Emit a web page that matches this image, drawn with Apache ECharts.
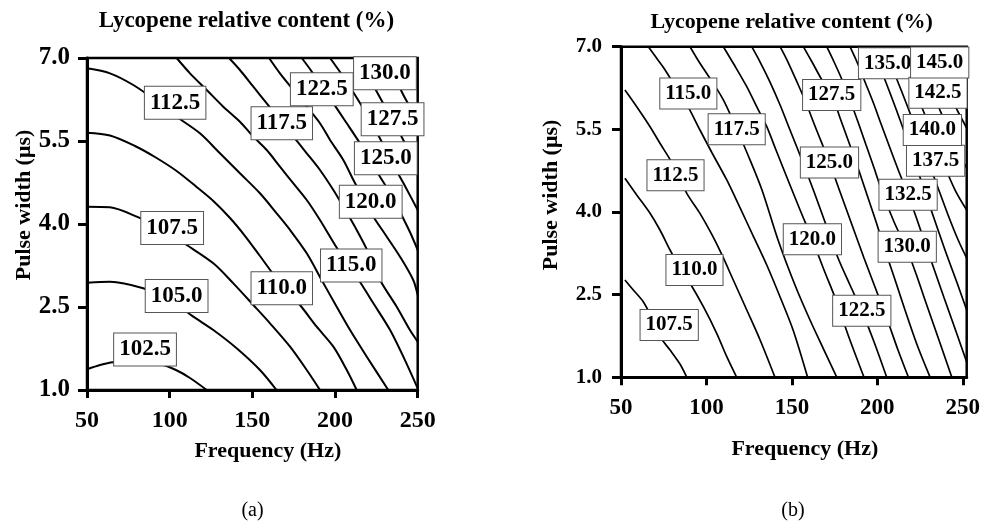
<!DOCTYPE html>
<html><head><meta charset="utf-8">
<script src="https://cdn.jsdelivr.net/npm/echarts@6.0.0/dist/echarts.min.js"></script>
<style>html,body{margin:0;padding:0;background:#fff}#c{width:984px;height:524px}</style>
</head><body><div id="c"></div>
<script>
// ---------- axis ticks ----------
const freqTicks = [50, 100, 150, 200, 250];
const widthTicks = [1.0, 2.5, 4.0, 5.5, 7.0];

// ---------- chart (a): contour lines [frequency Hz, pulse width us] ----------
const aLevels = [102.5, 105.0, 107.5, 110.0, 112.5, 115.0, 117.5, 120.0, 122.5, 125.0, 127.5, 130.0];
const a102_5 = [[50,1.374],[57.9,1.452],[65.7,1.501],[82.1,1.524],[94.2,1.470],[103.8,1.361],[112.3,1.217],[122.4,1.0]];
const a105_0 = [[50,2.939],[63.9,2.957],[84.0,2.838],[100.2,2.626],[114.3,2.325],[126.4,2.084],[140.5,1.754],[154.6,1.361],[164.6,1.0]];
const a107_5 = [[50,4.313],[63.9,4.302],[80.1,4.132],[95.4,3.910],[110.3,3.620],[126.4,3.290],[138.5,2.928],[150.6,2.536],[160.7,2.205],[172.8,1.783],[182.9,1.361],[190.9,1.0]];
const a110_0 = [[50,5.650],[63.9,5.599],[79.0,5.410],[91.1,5.211],[104.2,4.958],[116.3,4.669],[126.4,4.416],[136.5,4.108],[145.6,3.783],[154.6,3.422],[166.7,2.934],[178.8,2.536],[188.9,2.144],[199.0,1.783],[207.1,1.361],[213.1,1.0]];
const a112_5 = [[50,6.814],[63.9,6.723],[78.0,6.512],[91.1,6.241],[104.2,5.939],[118.3,5.639],[130.4,5.278],[142.5,4.916],[154.6,4.555],[164.7,4.193],[172.8,3.892],[182.9,3.470],[191.9,2.988],[201.0,2.505],[209.1,2.084],[219.2,1.602],[232.2,1.0]];
const a115_0 = [[104.2,7.0],[112.3,6.723],[122.4,6.422],[132.4,6.120],[142.5,5.849],[150.6,5.578],[158.7,5.337],[166.7,5.036],[174.8,4.735],[182.9,4.434],[190.9,4.072],[200.0,3.620],[209.1,3.205],[215.1,2.952],[223.2,2.567],[233.3,2.084],[241.3,1.602],[250,1.03]];
const a117_5 = [[135.9,7.0],[142.5,6.783],[150.6,6.481],[158.7,6.181],[166.7,5.879],[174.8,5.578],[182.9,5.278],[190.9,4.976],[199.0,4.614],[205.0,4.313],[213.1,3.892],[220.0,3.494],[227.2,2.988],[237.3,2.505],[245.3,2.084],[250,1.873]];
const a120_0 = [[160.1,7.0],[166.7,6.723],[174.8,6.422],[182.9,6.120],[190.9,5.820],[197.0,5.518],[205.0,5.157],[211.1,4.795],[216.9,4.470],[223.2,4.132],[231.3,3.770],[239.3,3.409],[247.3,2.988],[250,2.717]];
const a122_5 = [[179.9,7.0],[186.1,6.747],[192.7,6.440],[199.0,6.181],[207.1,5.820],[215.1,5.458],[221.2,5.157],[227.2,4.855],[233.3,4.560],[239.3,4.217],[245.3,3.855],[250,3.530]];
const a125_0 = [[197.0,7.0],[205.0,6.662],[212.1,6.331],[218.7,6.006],[224.8,5.681],[230.8,5.337],[236.3,5.012],[242.3,4.687],[250,4.253]];
const a127_5 = [[213.6,7.0],[220.0,6.675],[226.0,6.349],[232.0,6.024],[238.1,5.699],[244.1,5.355],[250,5.007]];
const a130_0 = [[230.2,7.0],[236.9,6.602],[242.3,6.277],[250,5.879]];
// label anchor points for chart (a), same order as aLevels
const aLabelFreq  = [85.1, 104.2, 101.5, 167.8, 103.3, 209.8, 167.8, 221.6, 192.0, 230.7, 234.8, 230.2];
const aLabelWidth = [1.732, 2.699, 3.928, 2.838, 6.192, 3.250, 5.820, 4.403, 6.436, 5.187, 5.894, 6.723];

// ---------- chart (b): contour lines ----------
const bLevels = [107.5, 110.0, 112.5, 115.0, 117.5, 120.0, 122.5, 125.0, 127.5, 130.0, 132.5, 135.0, 137.5, 140.0, 142.5, 145.0];
const b107_5 = [[52.3,2.766],[57.2,2.584],[63.1,2.367],[68.1,2.076],[72.8,1.737],[78.7,1.495],[84.5,1.241],[88.5,1.0]];
const b110_0 = [[52.3,4.612],[59.2,4.309],[67.0,3.976],[72.8,3.673],[78.7,3.310],[84.5,2.984],[90.4,2.706],[98.2,2.281],[106.0,1.799],[111.9,1.374],[117.7,1.0]];
const b112_5 = [[52.3,6.214],[59.2,5.911],[67.0,5.548],[72.8,5.247],[79.9,4.889],[88.5,4.339],[96.2,3.976],[103.3,3.583],[109.1,3.220],[115.7,2.766],[123.6,2.221],[131.4,1.677],[140.1,1.0]];
const b115_0 = [[66.0,7.0],[70.9,6.789],[75.8,6.577],[81.6,6.287],[89.2,5.911],[96.2,5.488],[103.3,5.071],[111.9,4.581],[119.7,4.073],[127.4,3.564],[135.3,3.038],[143.1,2.457],[150.7,1.858],[159.2,1.0]];
const b117_5 = [[90.4,7.0],[96.2,6.699],[104.0,6.336],[109.9,6.033],[116.7,5.579],[124.3,5.034],[132.5,4.399],[141.9,3.492],[151.8,2.675],[160.6,2.040],[168.8,1.495],[176.3,1.0]];
const b120_0 = [[109.9,7.0],[115.7,6.699],[123.6,6.274],[129.4,5.911],[135.3,5.548],[140.7,5.125],[147.7,4.581],[154.8,4.037],[161.8,3.510],[168.8,2.948],[175.8,2.403],[182.9,1.768],[192.2,1.0]];
const b122_5 = [[126.5,7.0],[131.4,6.722],[137.2,6.359],[143.1,5.942],[148.9,5.488],[155.9,4.944],[163.0,4.363],[170.0,3.764],[177.0,3.165],[184.0,2.675],[190.9,2.207],[198.1,1.641],[205.5,1.0]];
const b125_0 = [[143.1,7.0],[147.7,6.722],[153.0,6.359],[158.3,5.978],[163.5,5.561],[172.0,4.898],[178.2,4.363],[185.2,3.764],[192.2,3.165],[199.3,2.584],[206.3,2.004],[212.1,1.495],[218.2,1.0]];
const b127_5 = [[156.7,7.0],[161.8,6.722],[167.6,6.396],[173.3,6.123],[178.2,5.706],[183.5,5.252],[188.7,4.799],[194.0,4.309],[199.3,3.819],[204.5,3.310],[210.4,2.766],[216.2,2.221],[223.3,1.586],[230.9,1.0]];
const b130_0 = [[170.4,7.0],[174.7,6.722],[179.4,6.396],[184.0,6.033],[188.7,5.633],[193.4,5.216],[198.1,4.799],[202.8,4.363],[209.8,3.819],[217.4,3.310],[222.7,2.875],[227.9,2.403],[233.2,1.931],[238.5,1.459],[243.6,1.0]];
const b132_5 = [[184.0,7.0],[188.1,6.722],[192.8,6.359],[197.5,5.996],[202.2,5.597],[207.4,5.162],[212.7,4.726],[218.0,4.314],[223.3,3.855],[228.5,3.383],[233.8,2.911],[239.1,2.439],[244.3,1.985],[248.4,1.623],[252.3,1.278]];
const b135_0 = [[196.7,7.0],[204.5,6.396],[213.3,5.670],[222.1,4.889],[230.9,4.091],[239.6,3.310],[246.7,2.711],[252.3,2.221]];
const b137_5 = [[203.5,7.0],[210.4,6.486],[218.0,5.888],[225.6,5.252],[233.8,4.581],[241.4,3.946],[247.3,3.492],[252.3,3.165]];
const b140_0 = [[210.4,7.0],[216.8,6.577],[223.8,6.069],[230.9,5.525],[237.9,4.944],[245.5,4.399],[252.3,4.036]];
const b142_5 = [[218.0,7.0],[225.0,6.613],[232.0,6.178],[239.1,5.670],[246.1,5.162],[252.3,4.799]];
const b145_0 = [[225.0,7.0],[232.6,6.686],[240.2,6.250],[247.3,5.815],[252.3,5.525]];
const b147_5 = [[232.0,7.0],[239.6,6.650],[247.3,6.250],[252.3,5.996]];
const b150_0 = [[239.1,7.0],[245.5,6.759],[252.3,6.432]];
// label anchor points for chart (b), same order as bLevels
const bLabelFreq  = [78.2, 93.0, 81.9, 89.4, 117.7, 162.0, 190.9, 172.0, 173.3, 217.5, 218.0, 206.0, 234.1, 232.2, 235.5, 236.5];
const bLabelWidth = [1.949, 2.947, 4.666, 6.151, 5.503, 3.506, 2.207, 4.898, 6.123, 3.370, 4.314, 6.699, 4.929, 5.488, 6.163, 6.713];

const aLines = [a102_5, a105_0, a107_5, a110_0, a112_5, a115_0, a117_5, a120_0, a122_5, a125_0, a127_5, a130_0];
const bLines = [b107_5, b110_0, b112_5, b115_0, b117_5, b120_0, b122_5, b125_0, b127_5, b130_0, b132_5, b135_0, b137_5, b140_0, b142_5, b145_0, b147_5, b150_0];

const FONT = '"Liberation Serif","Times New Roman",serif';

function xAxisCfg(grid, max, labelSize, nameGap, namePad) {
  return {
    gridIndex: grid, type: 'value', min: 50, max: max,
    name: 'Frequency (Hz)', nameLocation: 'middle', nameGap: nameGap,
    nameTextStyle: {fontFamily: FONT, fontWeight: 'bold', fontSize: 22, color: '#000', padding: namePad},
    axisLine: {onZero: false, lineStyle: {color: '#000', width: 3}},
    axisTick: {customValues: freqTicks, length: 8, lineStyle: {color: '#000', width: 3}},
    axisLabel: {customValues: freqTicks, margin: 19, fontFamily: FONT, fontWeight: 'bold', fontSize: labelSize, color: '#000'},
    splitLine: {show: false}
  };
}
function yAxisCfg(grid, labelSize, nameGap, namePad, margin) {
  return {
    gridIndex: grid, type: 'value', min: 1, max: 7,
    name: 'Pulse width (\u03bcs)', nameLocation: 'middle', nameGap: nameGap,
    nameTextStyle: {fontFamily: FONT, fontWeight: 'bold', fontSize: 22, color: '#000', padding: namePad},
    axisLine: {onZero: false, lineStyle: {color: '#000', width: 3}},
    axisTick: {customValues: widthTicks, length: 9, lineStyle: {color: '#000', width: 3}},
    axisLabel: {customValues: widthTicks, margin: margin, fontFamily: FONT, fontWeight: 'bold', fontSize: labelSize, color: '#000',
      formatter: v => Number(v).toFixed(1)},
    splitLine: {show: false}
  };
}

const series = [];
aLines.forEach(pts => series.push({
  type: 'line', xAxisIndex: 0, yAxisIndex: 0, data: pts, symbol: 'none', smooth: 0.3, silent: true,
  lineStyle: {color: '#000', width: 2}, z: 2
}));
bLines.forEach(pts => series.push({
  type: 'line', xAxisIndex: 1, yAxisIndex: 1, data: pts, symbol: 'none', smooth: 0.3, silent: true,
  lineStyle: {color: '#000', width: 1.7}, z: 2
}));
function labelSeries(xi, levels, fx, wy, size, pad) {
  return {
    type: 'scatter', xAxisIndex: xi, yAxisIndex: xi, symbolSize: 1, silent: true, z: 5,
    itemStyle: {color: 'rgba(0,0,0,0)'},
    data: levels.map((v, i) => [fx[i], wy[i], v]),
    label: {show: true, position: 'inside', opacity: 1, formatter: p => p.value[2].toFixed(1),
      backgroundColor: '#fff', borderColor: '#555', borderWidth: 1, padding: pad,
      fontFamily: FONT, fontWeight: 'bold', fontSize: size, color: '#000'},
    labelLayout: {hideOverlap: false}
  };
}
series.push(labelSeries(0, aLevels, aLabelFreq, aLabelWidth, 23, [5, 5, 4, 5]));
series.push(labelSeries(1, bLevels, bLabelFreq, bLabelWidth, 21, [5, 5, 4, 5]));

const option = {
  animation: false,
  backgroundColor: '#fff',
  grid: [
    {left: 87, top: 58, width: 330.7, height: 332, show: true, borderColor: '#000', borderWidth: 2.5, backgroundColor: 'transparent'},
    {left: 621, top: 46.7, width: 345.7, height: 330.6, show: true, borderColor: '#000', borderWidth: 2.5, backgroundColor: 'transparent'}
  ],
  xAxis: [xAxisCfg(0, 250, 24, 50, [0, 0, 0, 31]), xAxisCfg(1, 252.3, 23, 61, [0, 0, 0, 22])],
  yAxis: [yAxisCfg(0, 25, 47, [0, 0, 0, 38], 17), yAxisCfg(1, 21, 59, [0, 0, 0, 34], 19)],
  graphic: [
    {type: 'text', x: 246.5, y: 21, style: {text: 'Lycopene relative content (%)', fontFamily: FONT, fontWeight: 'bold', fontSize: 23, fill: '#000', align: 'center', verticalAlign: 'middle'}},
    {type: 'text', x: 791.7, y: 22, style: {text: 'Lycopene relative content (%)', fontFamily: FONT, fontWeight: 'bold', fontSize: 22, fill: '#000', align: 'center', verticalAlign: 'middle'}},
    {type: 'text', x: 252.5, y: 511, style: {text: '(a)', fontFamily: FONT, fontSize: 20, fill: '#000', align: 'center', verticalAlign: 'middle'}},
    {type: 'text', x: 793, y: 511, style: {text: '(b)', fontFamily: FONT, fontSize: 20, fill: '#000', align: 'center', verticalAlign: 'middle'}}
  ],
  series: series
};
const chart = echarts.init(document.getElementById('c'), null, {renderer: 'canvas'});
chart.setOption(option);
</script></body></html>
